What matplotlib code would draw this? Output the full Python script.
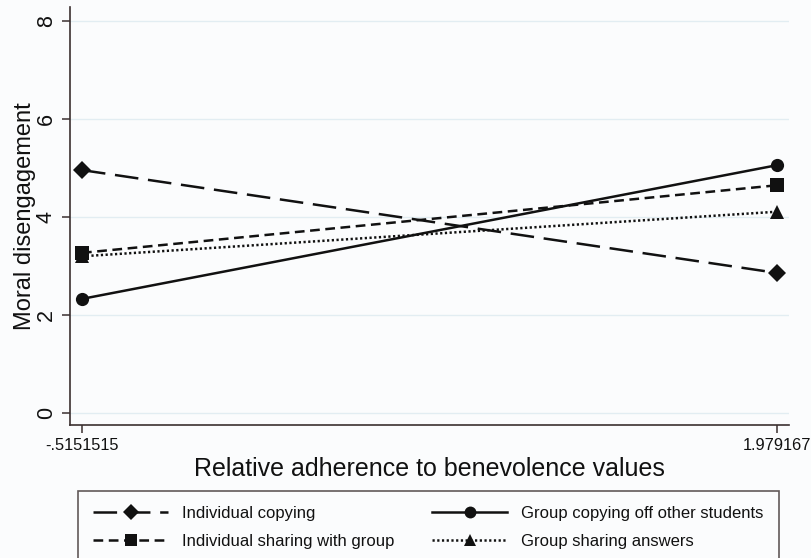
import matplotlib
matplotlib.use("Agg")
import matplotlib.pyplot as plt

# Predicted moral disengagement at low / high relative benevolence
x_values = [-0.5151515, 1.979167]
x_tick_labels = ["-.5151515", "1.979167"]
y_ticks = [0, 2, 4, 6, 8]

individual_copying = [4.96, 2.86]
group_copying = [2.33, 5.06]
individual_sharing = [3.27, 4.65]
group_sharing = [3.20, 4.11]

series_labels = [
    "Individual copying",
    "Individual sharing with group",
    "Group copying off other students",
    "Group sharing answers",
]

plt.rcParams["font.family"] = ["Liberation Sans", "DejaVu Sans"]
plt.rcParams["lines.scale_dashes"] = False

bg = "#fbfcfd"
ink = "#111111"
spine_col = "#3b3030"

fig = plt.figure(figsize=(8.11, 5.58), dpi=100, facecolor=bg)
ax = fig.add_axes([70 / 811, 1 - 425 / 558, (789 - 70) / 811, (425 - 7) / 558])
ax.set_facecolor(bg)

lw = 1.8
styles = {
    "Individual copying": (individual_copying, "D", 9.0, (0, (17, 7))),
    "Individual sharing with group": (individual_sharing, "s", 9.5, (0, (7, 4))),
    "Group copying off other students": (group_copying, "o", 9.5, "-"),
    "Group sharing answers": (group_sharing, "^", 10.0, (0, (1.6, 1.8))),
}

handles = []
for lab in series_labels:
    vals, mk, ms, ls = styles[lab]
    h, = ax.plot(x_values, vals, color=ink, linewidth=lw, linestyle=ls,
                 marker=mk, markersize=ms, markeredgewidth=0,
                 markerfacecolor=ink, label=lab, clip_on=False)
    handles.append(h)

ax.set_xlim(-0.5582, 2.0222)
ax.set_ylim(-0.245, 8.29)

ax.set_xticks(x_values)
ax.set_xticklabels(x_tick_labels)
ax.set_yticks(y_ticks)
ax.set_yticklabels([str(v) for v in y_ticks])

ax.grid(axis="y", color="#e2edf2", linewidth=1.0)
ax.grid(axis="x", visible=False)
ax.set_axisbelow(True)

for side in ["top", "right"]:
    ax.spines[side].set_visible(False)
for side in ["left", "bottom"]:
    ax.spines[side].set_color(spine_col)
    ax.spines[side].set_linewidth(1.2)

ax.tick_params(axis="both", direction="out", length=6, width=1.1,
               color=spine_col, labelcolor=ink)
ax.tick_params(axis="x", labelsize=11.8, pad=3)
ax.tick_params(axis="y", labelsize=15.5, pad=3.5)
for t in ax.get_yticklabels():
    t.set_rotation(90)
    t.set_va("center")
    t.set_ha("right")

ax.set_xlabel("Relative adherence to benevolence values", fontsize=18,
              color=ink, labelpad=3)
ax.set_ylabel("Moral disengagement", fontsize=17, color=ink, labelpad=0)

leg = fig.legend(handles=handles, labels=series_labels, ncol=2,
                 loc="upper left", bbox_to_anchor=(78 / 811, 1 - 491 / 558),
                 frameon=True, fancybox=False, fontsize=12,
                 handlelength=4.5, handletextpad=0.85, columnspacing=2.25,
                 labelspacing=0.78, borderpad=0.9, borderaxespad=0,
                 numpoints=1, markerscale=0.9)
leg.get_frame().set_edgecolor(spine_col)
leg.get_frame().set_linewidth(1.2)
leg.get_frame().set_facecolor(bg)
for t in leg.get_texts():
    t.set_color(ink)

fig.savefig("out.png", dpi=100, facecolor=bg)
